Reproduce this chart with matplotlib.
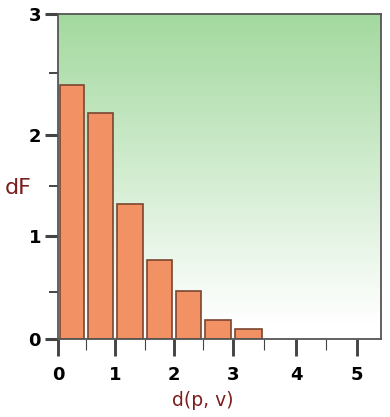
import numpy as np
import matplotlib
matplotlib.use('Agg')
import matplotlib.pyplot as plt
from matplotlib.colors import to_rgb

# histogram of d(p, v)
bin_centers = [0.25, 0.75, 1.25, 1.75, 2.25, 2.75, 3.25]
dF = [2.40, 2.18, 1.32, 0.79, 0.51, 0.20, 0.11]

x_major = [0, 1, 2, 3, 4, 5]
x_minor = [0.5, 1.5, 2.5, 3.5, 4.5]
y_major = [0, 1, 2, 3]
y_minor = [0.5, 1.5, 2.5]

# the original axes are not quite evenly spaced: tick value -> pixel offset
x_cal_val = [0, 0.5, 1, 1.5, 2, 2.5, 3, 3.5, 4, 4.5, 5]
x_cal_pix = [0, 28, 57, 86.4, 116, 145, 175, 206, 238, 268, 299]
y_cal_val = [0, 0.5, 1, 1.5, 2, 2.5, 3]
y_cal_pix = [0, 47.6, 103, 153.6, 204, 266.6, 325]


def warp(vals, pix):
    v = np.asarray(vals, float)
    p = np.asarray(pix, float)
    s0 = (p[1] - p[0]) / (v[1] - v[0])
    s1 = (p[-1] - p[-2]) / (v[-1] - v[-2])
    v = np.r_[v[0] - 100, v, v[-1] + 100]
    p = np.r_[p[0] - 100 * s0, p, p[-1] + 100 * s1]
    fwd = lambda a: np.interp(a, v, p)
    inv = lambda a: np.interp(a, p, v)
    return fwd, inv


bar_col = '#f29163'
edge_col = '#7a4631'
lab_col = '#7a1e1e'
tick_col = '#444444'

fig = plt.figure(figsize=(3.9, 4.17), dpi=100)
ax = fig.add_axes([58.3 / 390, 1 - 339.3 / 417, (381 - 58.3) / 390, (339.3 - 14.3) / 417])

ax.set_xscale('function', functions=warp(x_cal_val, x_cal_pix))
ax.set_yscale('function', functions=warp(y_cal_val, y_cal_pix))

# green -> white background
top = np.array(to_rgb('#a3d99f'))
t = np.linspace(0, 1, 256)[:, None]
f = np.clip((t - 0.05) / 0.95, 0, 1)
grad = 1 - (1 - top)[None, :] * f
ax.imshow(grad[:, None, :], extent=[0, 1, 0, 1], transform=ax.transAxes,
          origin='lower', aspect='auto', zorder=0, interpolation='bilinear')

ax.bar(bin_centers, dF, width=0.43, color=bar_col, edgecolor=edge_col,
       linewidth=1.2, zorder=2)

ax.set_xlim(0, 5.39)
ax.set_ylim(0, 3)

ax.set_xticks(x_major)
ax.set_xticks(x_minor, minor=True)
ax.set_yticks(y_major)
ax.set_yticks(y_minor, minor=True)
ax.tick_params(axis='x', which='major', length=12, width=2.1, color=tick_col, pad=7,
               labelsize=13)
ax.tick_params(axis='x', which='minor', length=8, width=0.8, color=tick_col)
ax.tick_params(axis='y', which='major', length=9.5, width=2.2, color=tick_col, pad=3,
               labelsize=13)
ax.tick_params(axis='y', which='minor', length=6.5, width=1.4, color=tick_col)
for lab in ax.get_xticklabels() + ax.get_yticklabels():
    lab.set_fontweight('bold')

for s in ax.spines.values():
    s.set_color('#555555')
    s.set_linewidth(1.3)
    s.set_zorder(3)

ax.set_xlabel('d(p, v)', fontsize=13.5, color=lab_col, va='center')
ax.xaxis.set_label_coords((203 - 58.3) / 322.7, -(400 - 339.3) / 325)
ax.set_ylabel('dF', fontsize=16, color=lab_col, rotation=0, va='center', ha='center')
ax.yaxis.set_label_coords(-(58.3 - 18) / 322.7, (339.3 - 188) / 325)

fig.savefig('out.png', dpi=100)
